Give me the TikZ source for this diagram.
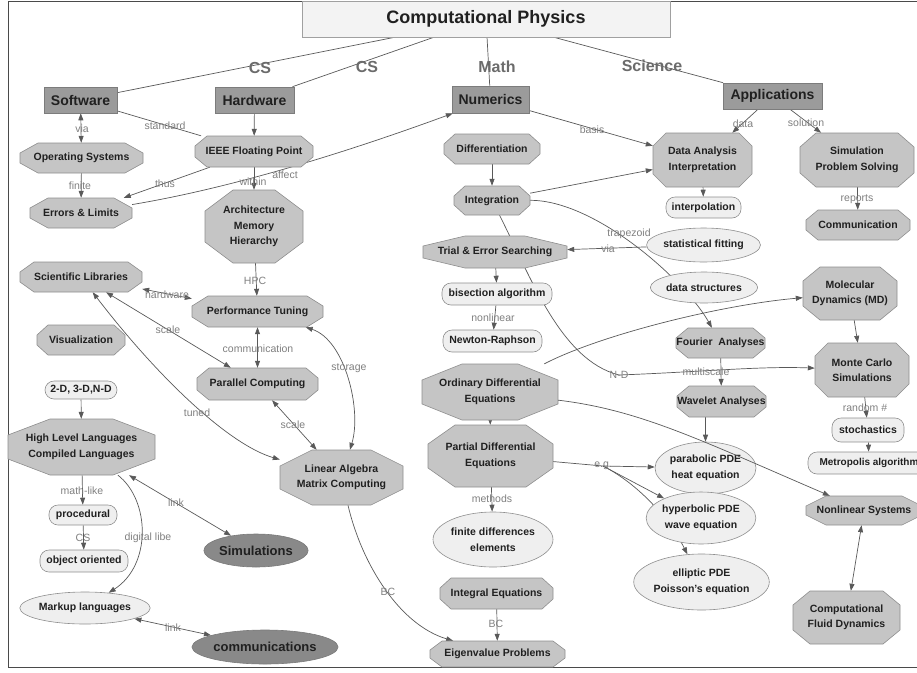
\documentclass[tikz,border=0pt]{standalone}
\usepackage{fontspec}
\setmainfont{Liberation Sans}
\usetikzlibrary{arrows.meta,shapes.geometric}

\definecolor{framecol}{HTML}{4A4A4A}
\definecolor{titlefill}{HTML}{F3F3F3}
\definecolor{titledraw}{HTML}{A0A0A0}
\definecolor{catfill}{HTML}{9B9B9B}
\definecolor{catdraw}{HTML}{7C7C7C}
\definecolor{octfill}{HTML}{C5C5C5}
\definecolor{octdraw}{HTML}{8E8E8E}
\definecolor{lightfill}{HTML}{EFEFEF}
\definecolor{lightdraw}{HTML}{8E8E8E}
\definecolor{darkfill}{HTML}{898989}
\definecolor{darkdraw}{HTML}{7A7A7A}
\definecolor{textdark}{HTML}{202020}
\definecolor{edgecol}{HTML}{595959}
\definecolor{lblcol}{HTML}{7F7F7F}
\definecolor{biglblcol}{HTML}{6B6B6B}

\pgfdeclarelayer{edges}
\pgfsetlayers{edges,main}

% octagon concept: name, x, y, width, height, corner cut x, corner cut y, text
\newcommand\octnode[8]{%
  \filldraw[octshape]
    ({#2-#4/2+#6},{#3-#5/2}) -- ({#2+#4/2-#6},{#3-#5/2}) --
    ({#2+#4/2},{#3-#5/2+#7}) -- ({#2+#4/2},{#3+#5/2-#7}) --
    ({#2+#4/2-#6},{#3+#5/2}) -- ({#2-#4/2+#6},{#3+#5/2}) --
    ({#2-#4/2},{#3+#5/2-#7}) -- ({#2-#4/2},{#3-#5/2+#7}) -- cycle;
  \node[octtext, minimum width=#4pt, minimum height=#5pt] (#1) at (#2,#3) {#8};%
}

\begin{document}
\begin{tikzpicture}[x=1pt, y=-1pt,
  txtbase/.style={font=\fontsize{10.5}{15.5}\selectfont\bfseries, text=textdark, align=center, inner sep=0pt},
  octtext/.style={txtbase, shape=rectangle},
  octshape/.style={fill=octfill, draw=octdraw, line width=0.6pt},
  cat/.style={txtbase, shape=rectangle, fill=catfill, draw=catdraw, line width=0.6pt,
              font=\fontsize{14}{16}\selectfont\bfseries},
  titlebox/.style={txtbase, shape=rectangle, fill=titlefill, draw=titledraw, line width=0.6pt,
              font=\fontsize{18}{20}\selectfont\bfseries},
  pill/.style={txtbase, shape=rectangle, rounded corners=9pt, fill=lightfill, draw=lightdraw, line width=0.6pt},
  oval/.style={txtbase, ellipse, fill=lightfill, draw=lightdraw, line width=0.6pt},
  darkoval/.style={txtbase, ellipse, fill=darkfill, draw=darkdraw, line width=0.6pt,
              font=\fontsize{13}{15}\selectfont\bfseries},
  lbl/.style={font=\fontsize{10.5}{12}\selectfont, text=lblcol, inner sep=0pt},
  biglbl/.style={font=\fontsize{16}{18}\selectfont\bfseries, text=biglblcol, inner sep=0pt},
  wire/.style={draw=edgecol, line width=0.7pt},
  arr/.style={wire, -{Triangle[length=7pt,width=5pt]}},
  darr/.style={wire, {Triangle[length=7pt,width=5pt]}-{Triangle[length=7pt,width=5pt]}},
]
\useasboundingbox (0,0) rectangle (917,672);
\draw[framecol, line width=1pt] (8,1.5) rectangle (940,667);

% ---- top level
\node[titlebox, minimum width=368pt, minimum height=36pt] (title) at (486,19) {Computational Physics};
\node[cat, minimum width=73pt, minimum height=26pt] (sw) at (80.5,100) {Software};
\node[cat, minimum width=79pt, minimum height=26pt] (hw) at (254.5,100) {Hardware};
\node[cat, minimum width=77pt, minimum height=27pt] (num) at (490.5,99.5) {Numerics};
\node[cat, minimum width=99pt, minimum height=26pt] (app) at (772.5,96) {Applications};

% ---- octagon concepts
\octnode{os}{81.5}{158}{123}{30}{18}{10}{Operating Systems}
\octnode{err}{81}{213}{102}{30}{18}{10}{Errors \& Limits}
\octnode{ieee}{254}{151.5}{118}{31}{12}{10}{IEEE Floating Point}
\octnode{arch}{254}{226.5}{98}{73}{28}{21}{Architecture\\Memory\\Hierarchy}
\octnode{sci}{81}{277}{122}{30}{14}{10}{Scientific Libraries}
\octnode{perf}{257.5}{311.5}{131}{31}{16}{10}{Performance Tuning}
\octnode{vis}{81}{340}{88}{30}{11}{10}{Visualization}
\octnode{par}{257.5}{384}{121}{32}{12}{10}{Parallel Computing}
\octnode{hll}{81.5}{447}{147}{56}{42}{16}{High Level Languages\\Compiled Languages}
\octnode{la}{341.5}{477.5}{123}{55}{32}{16}{Linear Algebra\\Matrix Computing}
\octnode{diff}{492}{149}{96}{30}{11}{10}{Differentiation}
\octnode{integ}{492}{200.5}{76}{29}{11}{10}{Integration}
\octnode{trial}{495}{252}{144}{32}{42}{10}{Trial \& Error Searching}
\octnode{ode}{490}{392}{136}{56}{40}{16}{Ordinary Differential\\Equations}
\octnode{pde}{490.5}{456}{125}{62}{27}{19}{Partial Differential\\Equations}
\octnode{inteq}{496.5}{593.5}{113}{31}{11}{10}{Integral Equations}
\octnode{eig}{497.5}{654}{135}{26}{12}{9}{Eigenvalue Problems}
\octnode{da}{702.5}{160}{99}{54}{13}{13}{Data Analysis\\Interpretation}
\octnode{sps}{857}{160}{114}{54}{16}{14}{Simulation\\Problem Solving}
\octnode{comm2}{858}{225}{104}{30}{12}{10}{Communication}
\octnode{md}{850}{293.5}{94}{53}{17}{14}{Molecular\\Dynamics (MD)}
\octnode{four}{720.5}{343}{89}{30}{12}{10}{Fourier~ Analyses}
\octnode{mc}{862}{370}{94}{54}{13}{13}{Monte Carlo\\Simulations}
\octnode{wav}{721.5}{401.5}{89}{31}{12}{10}{Wavelet Analyses}
\octnode{nls}{864}{510.5}{116}{29}{20}{10}{Nonlinear Systems}
\octnode{cfd}{846.5}{617.5}{107}{53}{17}{14}{Computational\\Fluid Dynamics}

% ---- rounded boxes
\node[pill, minimum width=72pt, minimum height=18pt] (dim) at (81,390) {2-D, 3-D,N-D};
\node[pill, minimum width=68pt, minimum height=20pt] (proc) at (83,515) {procedural};
\node[pill, minimum width=88pt, minimum height=22pt] (oo) at (84,561) {object oriented};
\node[pill, minimum width=110pt, minimum height=22pt] (bis) at (497,294) {bisection algorithm};
\node[pill, minimum width=99pt, minimum height=22pt] (newton) at (492.5,341) {Newton-Raphson};
\node[pill, minimum width=75pt, minimum height=21pt] (interp) at (703.5,207.5) {interpolation};
\node[pill, minimum width=72pt, minimum height=24pt] (stoch) at (868,430) {stochastics};
\node[pill, minimum width=122pt, minimum height=22pt, font=\fontsize{10}{14}\selectfont\bfseries] (metro) at (869,463) {Metropolis algorithm};

% ---- ellipses
\node[oval, minimum width=107pt, minimum height=34pt] (stat) at (703.5,245) {statistical fitting};
\node[oval, minimum width=104pt, minimum height=31pt] (ds) at (704,287.5) {data structures};
\node[oval, minimum width=101pt, minimum height=52pt] (para) at (705.5,468) {parabolic PDE\\heat equation};
\node[oval, minimum width=108pt, minimum height=52pt] (hyp) at (701,518) {hyperbolic PDE\\wave equation};
\node[oval, minimum width=131pt, minimum height=56pt] (ell) at (701.5,582) {elliptic PDE\\Poisson's equation};
\node[oval, minimum width=120pt, minimum height=55pt] (fde) at (493,539.5) {finite differences\\elements};
\node[oval, minimum width=124pt, minimum height=32pt] (markup) at (85,608) {Markup languages};
\node[darkoval, minimum width=98pt, minimum height=33pt] (sim) at (256,550.5) {Simulations};
\node[darkoval, minimum width=130pt, minimum height=34pt] (comms) at (265,647) {communications};

% ---- linking phrases
\node[biglbl] (lCS1) at (260,68) {CS};
\node[biglbl] (lCS2) at (367,67) {CS};
\node[biglbl] (lMath) at (497,67) {Math};
\node[biglbl] (lSci) at (652,66) {Science};
\node[lbl] (lVia1) at (82,129) {via};
\node[lbl] (lFinite) at (80,186) {finite};
\node[lbl] (lStandard) at (165,126) {standard};
\node[lbl] (lThus) at (165,184) {thus};
\node[lbl] (lWithin) at (253,182) {within};
\node[lbl] (lAffect) at (285,175) {affect};
\node[lbl] (lHPC) at (255,281) {HPC};
\node[lbl] (lHardware) at (167,295) {hardware};
\node[lbl] (lScale1) at (168,330) {scale};
\node[lbl] (lComm) at (258,349) {communication};
\node[lbl] (lStorage) at (349,368) {storage};
\node[lbl] (lScale2) at (293,425) {scale};
\node[lbl] (lTuned) at (197,413) {tuned};
\node[lbl] (lMathlike) at (82,491) {math-like};
\node[lbl] (lCS3) at (83,538) {CS};
\node[lbl] (lLink1) at (176,503) {link};
\node[lbl] (lDigital) at (148,538) {digital libe};
\node[lbl] (lLink2) at (173,628) {link};
\node[lbl] (lBC1) at (388,592) {BC};
\node[lbl] (lBasis) at (592,130) {basis};
\node[lbl] (lData) at (743,124) {data};
\node[lbl] (lSolution) at (806,123) {solution};
\node[lbl] (lReports) at (857,199) {reports};
\node[lbl] (lTrap) at (629,234) {trapezoid};
\node[lbl] (lVia2) at (608,249) {via};
\node[lbl] (lNonlin) at (493,318) {nonlinear};
\node[lbl] (lND) at (619,375) {N-D};
\node[lbl] (lMulti) at (706,372) {multiscale};
\node[lbl] (lRandom) at (865,408) {random \#};
\node[lbl] (lEG) at (603,466) {e.g.};
\node[lbl] (lMethods) at (492,499) {methods};
\node[lbl] (lBC2) at (496,624) {BC};

% ---- connectors (under the concepts)
\begin{pgfonlayer}{edges}
\draw[wire] (title) -- (sw);
\draw[wire] (title) -- (hw);
\draw[wire] (title) -- (num);
\draw[wire] (title) -- (app);
\draw[darr] (sw) -- (os);
\draw[arr] (os) -- (err);
\draw[wire] (sw) -- (ieee);
\draw[arr] (hw) -- (ieee);
\draw[arr] (ieee) -- (err);
\draw[arr] (ieee) -- (arch);
\draw[arr] (err) .. controls (250,185) and (380,140) .. (num);
\draw[arr] (arch) -- (perf);
\draw[darr] (perf) -- (sci);
\draw[darr] (perf) -- (par);
\draw[darr] (sci) -- (par);
\draw[darr] (sci) .. controls (160,380) and (230,445) .. (la);
\draw[darr] (par) -- (la);
\draw[darr] (perf) .. controls (345,340) and (362,410) .. (la);
\draw[arr] (dim) -- (hll);
\draw[arr] (hll) -- (proc);
\draw[arr] (proc) -- (oo);
\draw[darr] (hll) -- (sim);
\draw[arr] (hll) .. controls (150,500) and (152,565) .. (markup);
\draw[darr] (markup) -- (comms);
\draw[arr] (la) .. controls (362,565) and (400,625) .. (eig);
\draw[arr] (num) -- (da);
\draw[arr] (diff) -- (integ);
\draw[arr] (integ) -- (da);
\draw[arr] (integ) .. controls (595,200) and (685,280) .. (four);
\draw[arr] (stat) -- (trial);
\draw[arr] (trial) -- (bis);
\draw[arr] (bis) -- (newton);
\draw[arr] (integ) .. controls (530,275) and (560,360) .. (lND.center)
                   .. controls (700,372) and (760,366) .. (mc);
\draw[arr] (ode) .. controls (600,335) and (720,305) .. (md);
\draw[arr] (four) -- (wav);
\draw[arr] (ode) -- (pde);
\draw[wire] (pde) -- (lEG.center);
\draw[arr] (lEG.center) -- (para);
\draw[arr] (lEG.center) -- (hyp);
\draw[arr] (lEG.center) .. controls (640,485) and (670,520) .. (ell);
\draw[arr] (para.north |- wav.south) -- (para.north);
\draw[arr] (md) -- (mc);
\draw[arr] (mc) -- (stoch);
\draw[arr] (stoch) -- (metro);
\draw[arr] (app) -- (da);
\draw[arr] (app) -- (sps);
\draw[arr] (sps) -- (comm2);
\draw[arr] (da) -- (interp);
\draw[darr] (nls) -- (cfd);
\draw[arr] (pde) -- (fde);
\draw[arr] (inteq) -- (eig);
\end{pgfonlayer}
% this one runs over the parabolic PDE ellipse
\draw[arr] (ode) .. controls (640,410) and (700,440) .. (nls);
\end{tikzpicture}
\end{document}
